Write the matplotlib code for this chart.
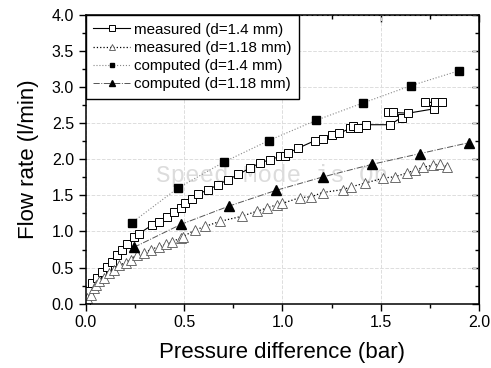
import matplotlib
matplotlib.use("Agg")
import matplotlib.pyplot as plt
from matplotlib.ticker import MultipleLocator

plt.rcParams['font.family'] = ['Liberation Sans', 'DejaVu Sans']

# measured, d=1.4 mm (open squares)
meas14_dp = [0.0, 0.015, 0.032, 0.058, 0.083, 0.108, 0.134, 0.16, 0.185, 0.21,
             0.244, 0.27, 0.337, 0.37, 0.414, 0.448, 0.482, 0.505, 0.538, 0.572,
             0.623, 0.673, 0.724, 0.775, 0.835, 0.885, 0.936, 0.987, 1.013, 1.03,
             1.08, 1.165, 1.208, 1.25, 1.29, 1.343, 1.36, 1.386, 1.425, 1.547,
             1.606, 1.539, 1.564, 1.64, 1.77, 1.725, 1.776, 1.81]
meas14_q = [0.04, 0.18, 0.28, 0.35, 0.44, 0.51, 0.58, 0.67, 0.74, 0.83,
            0.93, 0.97, 1.09, 1.13, 1.20, 1.27, 1.33, 1.39, 1.45, 1.52,
            1.58, 1.65, 1.72, 1.79, 1.88, 1.95, 1.995, 2.04, 2.04, 2.09,
            2.155, 2.26, 2.28, 2.34, 2.36, 2.43, 2.46, 2.44, 2.48, 2.48,
            2.58, 2.65, 2.65, 2.64, 2.70, 2.79, 2.79, 2.79]

# measured, d=1.18 mm (open triangles)
meas118_dp = [0.007, 0.024, 0.04, 0.049, 0.066, 0.092, 0.117, 0.142, 0.168, 0.202,
              0.227, 0.261, 0.295, 0.329, 0.371, 0.405, 0.44, 0.482, 0.495, 0.555,
              0.606, 0.682, 0.792, 0.869, 0.92, 0.97, 1.0, 1.09, 1.145, 1.204,
              1.306, 1.35, 1.42, 1.513, 1.573, 1.632, 1.674, 1.716, 1.768, 1.80,
              1.835]
meas118_q = [0.08, 0.12, 0.22, 0.26, 0.31, 0.36, 0.42, 0.47, 0.54, 0.56,
             0.61, 0.68, 0.70, 0.75, 0.79, 0.82, 0.86, 0.91, 0.93, 1.02,
             1.07, 1.14, 1.21, 1.28, 1.325, 1.37, 1.39, 1.47, 1.48, 1.54,
             1.58, 1.62, 1.67, 1.74, 1.76, 1.81, 1.85, 1.89, 1.92, 1.94,
             1.90]

# computed values
comp14_dp = [0.233, 0.467, 0.70, 0.93, 1.17, 1.408, 1.652, 1.90]
comp14_q = [1.12, 1.60, 1.96, 2.26, 2.54, 2.78, 3.02, 3.23]
comp118_dp = [0.244, 0.485, 0.726, 0.967, 1.204, 1.454, 1.70, 1.947]
comp118_q = [0.78, 1.10, 1.35, 1.57, 1.755, 1.93, 2.08, 2.23]

fig = plt.figure(figsize=(4.91, 3.68), dpi=100)
ax = fig.add_axes([0.175, 0.175, 0.8006, 0.784])

ax.plot(meas14_dp, meas14_q, '-', color='black', lw=0.8, marker='s', ms=5.6,
        mfc='white', mec='black', mew=0.7, label='measured (d=1.4 mm)')
ax.plot(meas118_dp, meas118_q, ':', color='black', lw=0.9, marker='^', ms=7,
        mfc='white', mec='#555555', mew=0.6, label='measured (d=1.18 mm)')
ax.plot(comp14_dp, comp14_q, ':', color='#888888', lw=0.8, marker='s', ms=5.2,
        mfc='black', mec='black', label='computed (d=1.4 mm)')
ax.plot(comp118_dp, comp118_q, '-.', color='#555555', lw=0.7, marker='^', ms=6.5,
        mfc='black', mec='black', label='computed (d=1.18 mm)')

ax.text(0.473, 0.445, 'Speed Mode is On', transform=ax.transAxes, ha='center',
        va='center', family='Liberation Mono', fontsize=17.5, color='#dcdcdc',
        zorder=0)

ax.set_xlim(0, 2.0)
ax.set_ylim(0, 4.0)
ax.xaxis.set_major_locator(MultipleLocator(0.5))
ax.xaxis.set_minor_locator(MultipleLocator(0.25))
ax.yaxis.set_major_locator(MultipleLocator(0.5))
ax.yaxis.set_minor_locator(MultipleLocator(0.25))
ax.xaxis.set_major_formatter(plt.FormatStrFormatter('%.1f'))
ax.yaxis.set_major_formatter(plt.FormatStrFormatter('%.1f'))
ax.tick_params(which='major', direction='out', length=5, width=1, labelsize=11.5)
ax.tick_params(which='minor', direction='out', length=3, width=1)
ax.grid(True, which='major', ls='--', color='#dddddd', lw=0.7)
ax.set_axisbelow(True)
for s in ax.spines.values():
    s.set_linewidth(1.1)

# mirrored ticks on top and right, pointing inward
top = ax.secondary_xaxis('top')
top.xaxis.set_major_locator(MultipleLocator(0.5))
top.xaxis.set_minor_locator(MultipleLocator(0.25))
right = ax.secondary_yaxis('right')
right.yaxis.set_major_locator(MultipleLocator(0.5))
right.yaxis.set_minor_locator(MultipleLocator(0.25))
for sec in (top, right):
    sec.tick_params(which='major', direction='in', length=5, width=1)
    sec.tick_params(which='minor', direction='in', length=3, width=1)
top.set_xticklabels([])
right.set_yticklabels([])

ax.set_xlabel('Pressure difference (bar)', fontsize=16, labelpad=8)
ax.set_ylabel('Flow rate (l/min)', fontsize=16, labelpad=9)

leg = ax.legend(loc='upper left', fontsize=10.9, borderaxespad=0, fancybox=False,
                edgecolor='black', framealpha=1, handlelength=2.4,
                handletextpad=0.3, labelspacing=0.28, borderpad=0.5,
                markerscale=0.65)
leg.get_frame().set_linewidth(1.0)

fig.savefig('out.png', dpi=100)
